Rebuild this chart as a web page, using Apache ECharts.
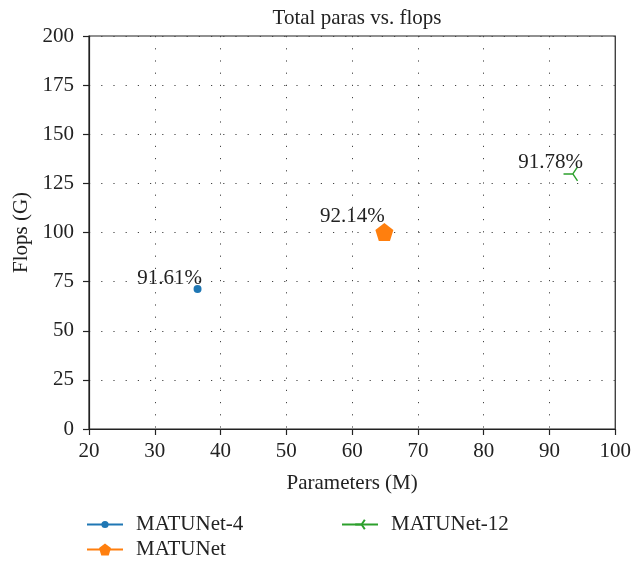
<!DOCTYPE html>
<html>
<head>
<meta charset="utf-8">
<script src="https://cdn.jsdelivr.net/npm/echarts@6/dist/echarts.min.js"></script>
<style>
  html, body { margin: 0; padding: 0; background: #fff; }
  #chart { width: 634px; height: 563px; }
</style>
</head>
<body>
<div id="chart"></div>
<script>
// Model sizes (M params), compute cost (GFLOPs) and accuracy annotations
const modelNames = ['MATUNet-4', 'MATUNet', 'MATUNet-12'];
const paramsM = [36.5, 64.9, 93.2];
const flopsG = [71.2, 100.2, 129.8];
const accuracy = ['91.61%', '92.14%', '91.78%'];
const xTicks = [20, 30, 40, 50, 60, 70, 80, 90, 100];
const yTicks = [0, 25, 50, 75, 100, 125, 150, 175, 200];

const colors = ['#1f77b4', '#ff7f0e', '#2ca02c'];
const FONT = '"Liberation Serif", "DejaVu Serif", serif';
const FS = 21;

// Regular pentagon and a left-pointing tri marker
const pentagon = 'path://M50,0 L97.55,34.55 L79.39,90.45 L20.61,90.45 L2.45,34.55 Z';
const triLeft = 'path://M10,10 L0,10 M10,10 L15,1.34 M10,10 L15,18.66';

const symbols = ['circle', pentagon, triLeft];
const symbolSizes = [8, 18, 14];
const labelOffsets = [[-28, 9], [-32, 9], [-20, 14]];

const series = modelNames.map((name, i) => ({
  name: name,
  type: 'line',
  data: [[paramsM[i], flopsG[i]]],
  symbol: symbols[i],
  symbolSize: symbolSizes[i],
  showSymbol: true,
  color: colors[i],
  lineStyle: { color: colors[i], width: 1.5 },
  itemStyle: i === 2
    ? { color: 'none', borderColor: colors[i], borderWidth: 1.4 }
    : { color: colors[i] },
  label: {
    show: true,
    position: 'top',
    offset: labelOffsets[i],
    formatter: () => accuracy[i],
    color: '#222',
    fontFamily: FONT,
    fontSize: FS
  },
  z: 5
}));

const legendText = { color: '#222', fontFamily: FONT, fontSize: FS, padding: [0, 0, 0, 8] };
function legendFor(idx, left, top, iconHeight) {
  return {
    data: [modelNames[idx]], left: left, top: top,
    itemWidth: 36, itemHeight: iconHeight,
    textStyle: legendText, selectedMode: false
  };
}

const axisText = { color: '#222', fontFamily: FONT, fontSize: FS };

const chart = echarts.init(document.getElementById('chart'), null, { renderer: 'canvas' });
chart.setOption({
  backgroundColor: '#fff',
  animation: false,
  title: {
    text: 'Total paras vs. flops',
    left: 352, top: 3, textAlign: 'center',
    textStyle: { color: '#222', fontFamily: FONT, fontSize: FS, fontWeight: 'normal' }
  },
  grid: {
    left: 89, right: 17, top: 36, bottom: 134,
    show: true, borderColor: '#222', borderWidth: 1.2, backgroundColor: 'transparent'
  },
  legend: [
    legendFor(0, 81, 509, 9),
    legendFor(1, 81, 534, 15),
    legendFor(2, 336, 509, 12)
  ],
  xAxis: {
    type: 'value',
    min: xTicks[0], max: xTicks[xTicks.length - 1], interval: 10,
    name: 'Parameters (M)', nameLocation: 'middle', nameGap: 44,
    nameTextStyle: axisText,
    axisLine: { show: true, lineStyle: { color: '#222', width: 1.2 } },
    axisTick: { show: true, inside: false, length: 6, lineStyle: { color: '#222', width: 1.2 } },
    axisLabel: Object.assign({ margin: 12 }, axisText),
    splitLine: { show: true, lineStyle: { color: '#444', width: 1, type: [1.2, 11] } }
  },
  yAxis: {
    type: 'value',
    min: yTicks[0], max: yTicks[yTicks.length - 1], interval: 25,
    name: 'Flops (G)', nameLocation: 'middle', nameGap: 57,
    nameTextStyle: axisText,
    axisLine: { show: true, lineStyle: { color: '#222', width: 1.2 } },
    axisTick: { show: true, inside: false, length: 6, lineStyle: { color: '#222', width: 1.2 } },
    axisLabel: Object.assign({ margin: 15 }, axisText),
    splitLine: { show: true, lineStyle: { color: '#444', width: 1, type: [1.2, 11] } }
  },
  series: series
});
</script>
</body>
</html>
